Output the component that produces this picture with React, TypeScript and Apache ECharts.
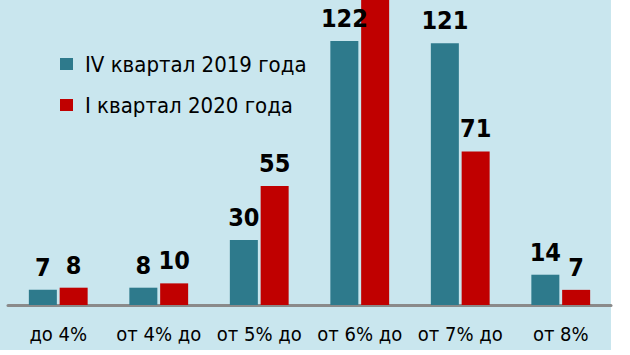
import React, { useEffect, useRef } from "react";
import * as echarts from "echarts";

const categories = ["до 4%", "от 4% до", "от 5% до", "от 6% до", "от 7% до", "от 8%"];
const seriesNames = ["IV квартал 2019 года", "I квартал 2020 года"];
const q4_2019 = [7, 8, 30, 122, 121, 14];
const q1_2020 = [8, 10, 55, 170, 71, 7];

const NARROW = "'Liberation Sans Narrow', 'Arial Narrow', 'DejaVu Sans Condensed', sans-serif";
const Y_MAX = 141;

export default function App() {
  const ref = useRef<HTMLDivElement>(null);
  useEffect(() => {
    if (!ref.current) return;
    const chart = echarts.init(ref.current, undefined, { renderer: "svg" });
    const label = {
      show: true,
      position: "top" as const,
      distance: 10,
      color: "#000",
      fontFamily: NARROW,
      fontWeight: "bold" as const,
      fontSize: 25,
    };
    // values above the visible range run off the top of the picture, label included
    const toData = (arr: number[]) =>
      arr.map((v) => (v > Y_MAX ? { value: v, label: { show: false } } : v));
    chart.setOption({
      animation: false,
      backgroundColor: "#ffffff",
      graphic: [
        {
          type: "rect",
          z: -10,
          silent: true,
          shape: { x: 0, y: 0, width: 611, height: 350 },
          style: { fill: "#c9e6ee" },
        },
      ],
      legend: {
        orient: "vertical",
        left: 55,
        top: 47,
        icon: "rect",
        itemWidth: 13,
        itemHeight: 12,
        itemGap: 17,
        textStyle: {
          fontFamily: NARROW,
          fontSize: 22,
          lineHeight: 24,
          color: "#000",
          padding: [0, 0, 0, 7],
        },
        data: seriesNames,
      },
      grid: { left: 8, right: 19, top: 0, bottom: 50 },
      xAxis: {
        type: "category",
        data: categories,
        axisLine: { lineStyle: { color: "#8a8a8a", width: 3 } },
        axisTick: { length: 6, lineStyle: { color: "#8a8a8a", width: 2 } },
        axisLabel: {
          color: "#000",
          fontFamily: NARROW,
          fontSize: 20,
          margin: 19,
          interval: 0,
        },
      },
      yAxis: {
        type: "value",
        min: 0,
        max: Y_MAX,
        show: false,
        splitLine: { show: false },
      },
      series: [
        {
          name: seriesNames[0],
          type: "bar",
          data: toData(q4_2019),
          barWidth: 28,
          barGap: "10%",
          clip: false,
          itemStyle: { color: "#2e7a8c" },
          label,
        },
        {
          name: seriesNames[1],
          type: "bar",
          data: toData(q1_2020),
          barWidth: 28,
          barGap: "10%",
          clip: false,
          itemStyle: { color: "#c00000" },
          label,
        },
      ],
    });
    return () => chart.dispose();
  }, []);
  return (
    <div
      ref={ref}
      style={{ position: "fixed", left: 0, top: 0, width: 630, height: 355 }}
    />
  );
}
